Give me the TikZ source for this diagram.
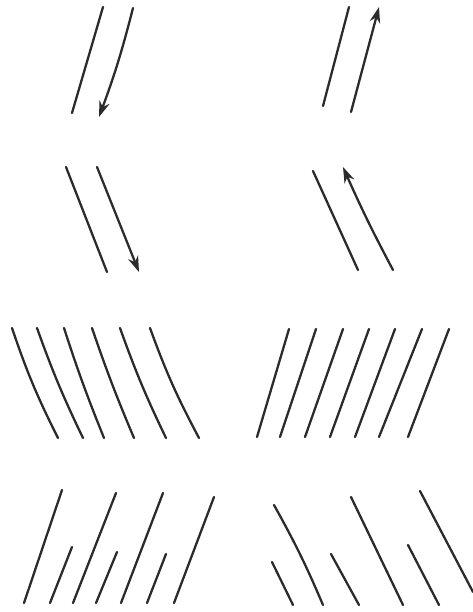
\documentclass[tikz,border=0pt]{standalone}
\usepackage{tikz}
\usetikzlibrary{arrows.meta}
\definecolor{InkDark}{HTML}{2B2B2B}

\begin{document}
\begin{tikzpicture}[x=0.02cm, y=-0.02cm, line cap=round]
    \tikzset{stroke/.style={line width=1.3pt, InkDark},
             tipped/.style={stroke, -{Stealth[length=9pt, width=6pt]}}}
    \useasboundingbox (0,0) rectangle (473,612);
    % row 1: parallel pair, one arrow down / one arrow up
    \draw[stroke] (103,7) -- (72,113);
    \draw[tipped] (133,8) to[bend left=3] (99,117);
    \draw[stroke] (349,7) -- (323,106);
    \draw[tipped] (351,112) -- (379,7);
    % row 2: pair slanting the other way
    \draw[stroke] (66,167) -- (107,272);
    \draw[tipped] (97,167) -- (139,272);
    \draw[stroke] (313,171) -- (358,270);
    \draw[tipped] (393,270) to[bend left=2] (343,167);
    % row 3: full rows of lines
    \draw[stroke] (12,328) to[bend right=4] (58,438);
    \draw[stroke] (37,328) to[bend right=3] (83,438);
    \draw[stroke] (64,328) to[bend right=2] (104,438);
    \draw[stroke] (92,328) to[bend right=2] (134,438);
    \draw[stroke] (120,328) to[bend right=3] (166,438);
    \draw[stroke] (150,328) to[bend right=4] (199,438);
    \draw[stroke] (289,329) -- (257,437);
    \draw[stroke] (316,329) -- (280,437);
    \draw[stroke] (343,329) -- (305,437);
    \draw[stroke] (369,329) -- (330,437);
    \draw[stroke] (395,329) -- (355,437);
    \draw[stroke] (422,329) -- (379,437);
    \draw[stroke] (449,329) -- (408,437);
    % row 4: long and short lines mixed
    \draw[stroke] (62,490) -- (24,603);
    \draw[stroke] (72,547) -- (50,603);
    \draw[stroke] (116,493) -- (73,603);
    \draw[stroke] (117,552) -- (96,603);
    \draw[stroke] (163,493) -- (121,603);
    \draw[stroke] (166,554) -- (147,603);
    \draw[stroke] (214,497) -- (174,603);
    \draw[stroke] (274,505) to[bend left=3] (323,605);
    \draw[stroke] (272,562) -- (293,605);
    \draw[stroke] (331,554) -- (359,605);
    \draw[stroke] (351,497) -- (403,605);
    \draw[stroke] (408,545) -- (439,605);
    \draw[stroke] (420,491) -- (473,592);
\end{tikzpicture}
\end{document}
